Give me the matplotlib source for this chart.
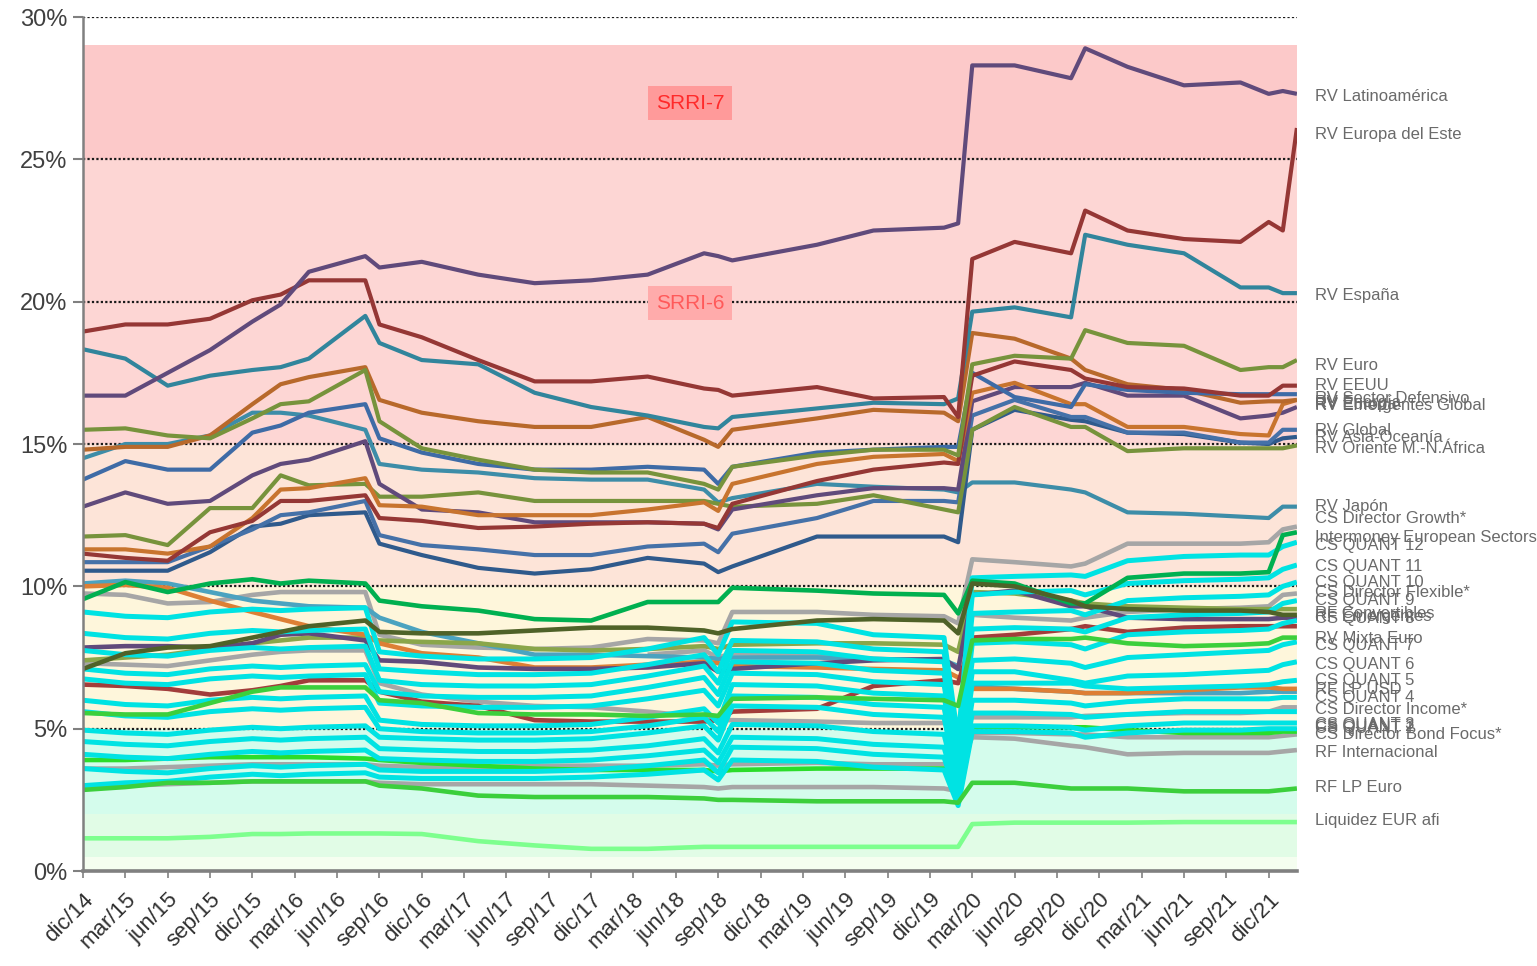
import numpy as np
import matplotlib.pyplot as plt
from matplotlib import font_manager

months = [0, 3, 6, 9, 12, 14, 16, 20, 21, 24, 28, 32, 36, 40, 44, 45, 46, 52, 56, 61,
          62, 63, 66, 70, 71, 74, 78, 82, 84, 85, 86]

tick_labels = ['dic/14', 'mar/15', 'jun/15', 'sep/15', 'dic/15', 'mar/16', 'jun/16', 'sep/16',
               'dic/16', 'mar/17', 'jun/17', 'sep/17', 'dic/17', 'mar/18', 'jun/18', 'sep/18',
               'dic/18', 'mar/19', 'jun/19', 'sep/19', 'dic/19', 'mar/20', 'jun/20', 'sep/20',
               'dic/20', 'mar/21', 'jun/21', 'sep/21', 'dic/21']

# ---- renta variable
rv_latam = [16.7, 16.7, 17.5, 18.3, 19.3, 19.9, 21.05, 21.6, 21.2, 21.4, 20.95, 20.65, 20.75, 20.95, 21.7,
            21.6, 21.45, 22.0, 22.5, 22.6, 22.75, 28.3, 28.3, 27.85, 28.9, 28.25, 27.6, 27.7, 27.3, 27.4, 27.3]
rv_europa_este = [18.95, 19.2, 19.2, 19.4, 20.05, 20.25, 20.75, 20.75, 19.2, 18.75, 17.95, 17.2, 17.2, 17.37, 16.95,
                  16.9, 16.7, 17.0, 16.6, 16.65, 15.95, 21.5, 22.1, 21.7, 23.2, 22.5, 22.2, 22.1, 22.8, 22.5, 26.1]
rv_espana = [18.33, 18.0, 17.05, 17.4, 17.6, 17.7, 18.0, 19.5, 18.55, 17.95, 17.8, 16.8, 16.3, 16.0, 15.6,
             15.55, 15.95, 16.25, 16.45, 16.4, 16.6, 19.65, 19.8, 19.45, 22.35, 22.0, 21.7, 20.5, 20.5, 20.3, 20.3]
rv_euro = [15.5, 15.55, 15.3, 15.2, 15.9, 16.4, 16.5, 17.6, 15.8, 14.85, 14.45, 14.1, 14.0, 14.0, 13.6,
           13.4, 14.2, 14.6, 14.8, 14.8, 14.6, 17.8, 18.1, 18.0, 19.0, 18.55, 18.45, 17.6, 17.7, 17.7, 17.95]
rv_eeuu = [11.15, 11.0, 10.9, 11.9, 12.3, 13.0, 13.0, 13.2, 12.4, 12.3, 12.05, 12.1, 12.2, 12.25, 12.2,
           12.05, 12.9, 13.7, 14.1, 14.35, 14.3, 17.4, 17.9, 17.6, 17.3, 17.0, 16.95, 16.7, 16.7, 17.05, 17.05]
rv_defensivo = [13.75, 14.4, 14.1, 14.1, 15.4, 15.65, 16.1, 16.4, 15.2, 14.7, 14.3, 14.1, 14.1, 14.2, 14.1,
                13.6, 14.2, 14.7, 14.8, 14.9, 14.9, 17.5, 16.65, 16.3, 17.1, 16.9, 16.8, 16.75, 16.75, 16.75, 16.75]
rv_europa = [14.8, 14.9, 14.9, 15.3, 16.4, 17.1, 17.35, 17.7, 16.55, 16.1, 15.8, 15.6, 15.6, 15.95, 15.15,
             14.9, 15.5, 15.9, 16.2, 16.1, 15.8, 18.9, 18.7, 18.0, 17.6, 17.1, 16.9, 16.45, 16.5, 16.5, 16.55]
rv_emergentes = [11.3, 11.3, 11.15, 11.4, 12.4, 13.4, 13.45, 13.8, 12.85, 12.8, 12.5, 12.5, 12.5, 12.7, 12.95,
                 12.65, 13.6, 14.3, 14.55, 14.65, 14.4, 16.8, 17.15, 16.4, 16.4, 15.6, 15.6, 15.35, 15.3, 16.4, 16.55]
rv_energia = [12.8, 13.3, 12.9, 13.0, 13.9, 14.3, 14.45, 15.1, 13.6, 12.7, 12.6, 12.25, 12.25, 12.25, 12.2,
              12.0, 12.7, 13.2, 13.45, 13.45, 13.4, 16.5, 17.0, 17.0, 17.15, 16.7, 16.7, 15.9, 16.0, 16.1, 16.3]
rv_global = [10.85, 10.85, 10.85, 11.4, 12.0, 12.5, 12.6, 13.0, 11.8, 11.45, 11.3, 11.1, 11.1, 11.4, 11.5,
             11.2, 11.85, 12.4, 13.0, 13.0, 12.95, 16.0, 16.55, 15.95, 15.95, 15.4, 15.4, 15.05, 15.05, 15.5, 15.5]
rv_asia = [10.55, 10.55, 10.55, 11.2, 12.1, 12.2, 12.5, 12.6, 11.5, 11.1, 10.65, 10.45, 10.6, 11.0, 10.8,
           10.5, 10.7, 11.75, 11.75, 11.75, 11.55, 15.5, 16.2, 15.85, 15.8, 15.4, 15.35, 15.05, 15.0, 15.2, 15.25]
rv_oriente = [11.75, 11.8, 11.45, 12.75, 12.75, 13.9, 13.55, 13.6, 13.15, 13.15, 13.3, 13.0, 13.0, 13.0, 13.0,
              12.9, 12.8, 12.9, 13.2, 12.7, 12.6, 15.5, 16.3, 15.6, 15.6, 14.75, 14.85, 14.85, 14.85, 14.85, 14.95]
rv_japon = [14.5, 15.0, 15.0, 15.3, 16.1, 16.1, 16.0, 15.5, 14.3, 14.1, 14.0, 13.8, 13.75, 13.75, 13.4,
            12.95, 13.1, 13.6, 13.5, 13.4, 13.3, 13.65, 13.65, 13.4, 13.3, 12.6, 12.55, 12.45, 12.4, 12.8, 12.8]

# ---- mixtos, renta fija, liquidez
cs_growth = [9.75, 9.7, 9.4, 9.45, 9.7, 9.8, 9.8, 9.8, 8.3, 7.95, 7.85, 7.8, 7.85, 8.15, 8.1,
             8.0, 9.1, 9.1, 9.0, 8.95, 8.7, 10.95, 10.85, 10.7, 10.8, 11.5, 11.5, 11.5, 11.55, 12.0, 12.1]
european_sectors = [9.55, 10.15, 9.8, 10.1, 10.25, 10.1, 10.2, 10.1, 9.5, 9.3, 9.15, 8.85, 8.8, 9.45, 9.45,
                    9.45, 9.95, 9.85, 9.75, 9.7, 9.05, 10.2, 10.1, 9.4, 9.4, 10.3, 10.45, 10.45, 10.5, 11.8, 11.9]
cs_flexible = [None, None, None, None, None, None, None, None, None, None, None, None, None, 7.6, 7.75,
               7.5, 7.65, 7.6, 7.45, 7.4, 7.1, 9.0, 8.9, 8.8, 8.9, 9.1, 9.2, 9.25, 9.3, 9.7, 9.75]
cs_income = [7.3, 7.25, 7.2, 7.4, 7.6, 7.7, 7.75, 7.75, 6.6, 6.2, 5.95, 5.8, 5.75, 5.6, 5.4,
             5.3, 5.3, 5.25, 5.2, 5.2, 5.0, 5.4, 5.4, 5.4, 5.45, 5.5, 5.55, 5.55, 5.6, 5.75, 5.75]
cs_bond = [3.0, 3.0, 3.05, 3.1, 3.15, 3.15, 3.15, 3.15, 3.1, 3.05, 3.05, 3.05, 3.05, 3.0, 2.95,
           2.9, 2.95, 2.95, 2.95, 2.9, 2.8, 4.85, 4.85, 4.8, 4.8, 4.7, 4.7, 4.7, 4.7, 4.75, 4.8]
rf_internacional = [3.6, 3.6, 3.65, 3.7, 3.75, 3.75, 3.75, 3.75, 3.7, 3.65, 3.65, 3.7, 3.7, 3.7, 3.75,
                    3.7, 3.75, 3.8, 3.75, 3.75, 3.6, 4.7, 4.65, 4.4, 4.35, 4.1, 4.15, 4.15, 4.15, 4.2, 4.25]
rf_convertibles = [7.1, 7.65, 7.85, 7.9, 8.2, 8.4, 8.6, 8.8, 8.4, 8.35, 8.35, 8.45, 8.55, 8.55, 8.45,
                   8.35, 8.5, 8.8, 8.85, 8.8, 8.35, 10.1, 10.0, 9.5, 9.3, 9.2, 9.15, 9.15, 9.1, 9.0, 9.0]
rf_emergentes = [7.85, 7.9, 7.9, 7.85, 8.0, 8.3, 8.35, 8.1, 7.4, 7.35, 7.15, 7.1, 7.1, 7.15, 7.3,
                 7.0, 7.1, 7.3, 7.4, 7.45, 7.1, 9.7, 9.85, 9.3, 9.3, 8.9, 8.85, 8.85, 8.85, 8.9, 8.9]
mixto_rojo = [6.55, 6.5, 6.4, 6.2, 6.35, 6.5, 6.7, 6.7, 6.3, 5.95, 5.8, 5.3, 5.25, 5.25, 5.25,
              5.3, 5.6, 5.7, 6.5, 6.7, 6.6, 8.2, 8.3, 8.5, 8.6, 8.4, 8.55, 8.6, 8.6, 8.6, 8.6]
rv_mixta_euro = [5.55, 5.5, 5.5, 5.9, 6.3, 6.45, 6.45, 6.45, 6.0, 5.9, 5.55, 5.5, 5.5, 5.45, 5.5,
                 5.45, 6.05, 6.1, 6.05, 6.0, 5.8, 8.1, 8.15, 8.15, 8.2, 8.0, 7.9, 7.95, 8.0, 8.2, 8.2]
rf_lp_usd = [10.0, 10.05, 9.95, 9.5, 9.1, 8.85, 8.6, 8.3, 8.0, 7.65, 7.5, 7.15, 7.15, 7.25, 7.35,
             7.3, 7.2, 7.15, 7.1, 7.05, 6.8, 6.4, 6.4, 6.3, 6.25, 6.25, 6.35, 6.45, 6.45, 6.4, 6.4]
mixto_teal = [10.1, 10.2, 10.1, 9.8, 9.5, 9.4, 9.3, 9.25, 8.9, 8.4, 8.0, 7.6, 7.6, 7.55, 7.5,
              7.45, 7.5, 7.5, 7.45, 7.4, 7.2, 6.5, 6.4, 6.3, 6.25, 6.25, 6.25, 6.25, 6.3, 6.3, 6.3]
mixto_oliva = [7.4, 7.5, 7.6, 7.8, 8.0, 8.1, 8.2, 8.2, 8.1, 8.05, 8.0, 7.8, 7.75, 7.8, 7.9,
               7.8, 7.95, 8.0, 8.0, 7.95, 7.7, 9.8, 9.75, 9.5, 9.4, 9.3, 9.25, 9.2, 9.2, 9.2, 9.2]
mixto_verde = [3.9, 3.9, 3.95, 4.0, 4.0, 4.0, 4.0, 3.95, 3.9, 3.8, 3.7, 3.6, 3.55, 3.55, 3.55,
               3.5, 3.55, 3.6, 3.6, 3.6, 3.5, 5.05, 5.05, 5.05, 5.05, 4.95, 4.85, 4.85, 4.85, 4.9, 4.9]
rf_lp_euro = [2.85, 2.95, 3.1, 3.1, 3.15, 3.15, 3.15, 3.15, 3.0, 2.9, 2.65, 2.6, 2.6, 2.6, 2.55,
              2.5, 2.5, 2.45, 2.45, 2.45, 2.4, 3.1, 3.1, 2.9, 2.9, 2.9, 2.8, 2.8, 2.8, 2.85, 2.9]
liquidez = [1.15, 1.15, 1.15, 1.2, 1.3, 1.3, 1.32, 1.32, 1.32, 1.3, 1.05, 0.9, 0.78, 0.78, 0.85,
            0.85, 0.85, 0.85, 0.85, 0.85, 0.85, 1.65, 1.7, 1.7, 1.7, 1.7, 1.72, 1.72, 1.72, 1.72, 1.72]

# ---- CS QUANT 12 ... 1
quant_12 = [9.1, 8.95, 8.9, 9.1, 9.2, 9.15, 9.2, 9.25, 7.7, 7.55, 7.45, 7.45, 7.5, 7.8, 8.2,
            7.6, 8.75, 8.7, 8.3, 8.2, 4.6, 10.3, 10.35, 10.4, 10.35, 10.9, 11.05, 11.1, 11.1, 11.4, 11.55]
quant_11 = [8.35, 8.2, 8.15, 8.35, 8.45, 8.4, 8.45, 8.5, 7.1, 7.0, 6.9, 6.9, 6.95, 7.25, 7.6,
            7.0, 8.1, 8.05, 7.8, 7.7, 4.3, 9.7, 9.8, 9.85, 9.7, 10.1, 10.2, 10.25, 10.3, 10.6, 10.75]
quant_10 = [7.75, 7.6, 7.55, 7.75, 7.85, 7.8, 7.85, 7.9, 6.7, 6.55, 6.5, 6.5, 6.55, 6.85, 7.2,
            6.6, 7.75, 7.7, 7.45, 7.35, 4.0, 9.05, 9.1, 9.15, 9.0, 9.5, 9.6, 9.65, 9.7, 10.0, 10.15]
quant_9 = [7.1, 6.95, 6.9, 7.1, 7.2, 7.15, 7.2, 7.25, 6.3, 6.15, 6.1, 6.1, 6.15, 6.45, 6.8,
           6.2, 7.35, 7.3, 7.05, 6.95, 3.8, 8.5, 8.55, 8.5, 8.4, 8.9, 9.0, 9.05, 9.1, 9.4, 9.5]
quant_8 = [6.75, 6.6, 6.55, 6.75, 6.85, 6.8, 6.85, 6.9, 5.9, 5.8, 5.75, 5.75, 5.8, 6.05, 6.35,
           5.8, 6.95, 6.9, 6.65, 6.55, 3.6, 8.0, 8.05, 7.95, 7.8, 8.3, 8.4, 8.45, 8.5, 8.7, 8.8]
quant_7 = [6.0, 5.85, 5.8, 6.0, 6.1, 6.05, 6.1, 6.15, 5.3, 5.15, 5.1, 5.1, 5.15, 5.4, 5.7,
           5.2, 6.55, 6.5, 6.25, 6.15, 3.4, 7.4, 7.45, 7.3, 7.15, 7.5, 7.6, 7.7, 7.75, 7.95, 8.05]
quant_6 = [5.6, 5.45, 5.4, 5.6, 5.7, 5.65, 5.7, 5.75, 5.0, 4.9, 4.85, 4.85, 4.9, 5.1, 5.4,
           4.9, 6.15, 6.1, 5.85, 5.75, 3.2, 7.0, 7.0, 6.7, 6.6, 6.85, 6.9, 7.0, 7.05, 7.25, 7.35]
quant_5 = [4.95, 4.85, 4.8, 4.95, 5.05, 5.0, 5.05, 5.1, 4.7, 4.65, 4.6, 4.6, 4.65, 4.85, 5.1,
           4.6, 5.8, 5.75, 5.5, 5.4, 3.0, 6.6, 6.6, 6.6, 6.5, 6.4, 6.45, 6.5, 6.55, 6.65, 6.7]
quant_4 = [4.55, 4.45, 4.4, 4.55, 4.65, 4.6, 4.65, 4.7, 4.3, 4.25, 4.2, 4.2, 4.25, 4.4, 4.65,
           4.15, 5.15, 5.1, 4.9, 4.8, 2.8, 6.0, 6.0, 5.9, 5.8, 5.95, 6.05, 6.05, 6.05, 6.1, 6.1]
quant_3 = [4.1, 4.0, 3.95, 4.1, 4.2, 4.15, 4.2, 4.25, 3.95, 3.9, 3.85, 3.85, 3.9, 4.05, 4.25,
           3.8, 4.7, 4.65, 4.45, 4.35, 2.6, 5.55, 5.55, 5.5, 5.4, 5.5, 5.6, 5.6, 5.6, 5.6, 5.6]
quant_2 = [3.6, 3.5, 3.45, 3.6, 3.7, 3.65, 3.7, 3.75, 3.55, 3.5, 3.5, 3.5, 3.55, 3.7, 3.9,
           3.45, 4.35, 4.3, 4.1, 4.0, 2.4, 5.1, 5.1, 5.05, 4.95, 5.1, 5.2, 5.2, 5.2, 5.2, 5.2]
quant_1 = [3.0, 3.1, 3.15, 3.3, 3.4, 3.35, 3.4, 3.45, 3.3, 3.25, 3.25, 3.25, 3.3, 3.4, 3.55,
           3.2, 3.9, 3.85, 3.65, 3.55, 2.3, 4.9, 4.9, 4.85, 4.7, 4.85, 4.95, 4.95, 5.0, 5.0, 5.0]

# SRRI bands (lower, upper) and their fill colours
bands = [(0, 0.5), (0.5, 2), (2, 5), (5, 10), (10, 15), (15, 25), (25, 29)]
band_colors = ['#F5FEF0', '#E1FCE6', '#D4FCEC', '#FEF6DB', '#FDE4D8', '#FDD6D4', '#FCC9C9']

# right-hand labels (text, y position in %)
label_text = ['RV Latinoamérica', 'RV Europa del Este', 'RV España', 'RV Euro', 'RV EEUU',
              'RV Sector Defensivo', 'RV Energía', 'RV Europa', 'RV Emergentes Global', 'RV Global',
              'RV Asia-Oceanía', 'RV Oriente M.-N.África', 'RV Japón', 'CS Director Growth*',
              'Intermoney European Sectors', 'CS QUANT 12', 'CS QUANT 11', 'CS QUANT 10',
              'CS Director Flexible*', 'CS QUANT 9', 'RF Convertibles', 'RF Emergentes', 'CS QUANT 8',
              'RV Mixta Euro', 'CS QUANT 7', 'CS QUANT 6', 'CS QUANT 5', 'RF LP USD', 'CS QUANT 4',
              'CS Director Income*', 'CS QUANT 3', 'CS QUANT 2', 'CS QUANT 1',
              'CS Director Bond Focus*', 'RF Internacional', 'RF LP Euro', 'Liquidez EUR afi']
label_y = [27.19, 25.89, 20.2, 17.77, 17.07, 16.6, 16.45, 16.4, 16.36, 15.49, 15.24, 14.86, 12.82,
           12.4, 11.73, 11.45, 10.71, 10.12, 9.8, 9.52, 9.06, 8.95, 8.88, 8.18, 7.94, 7.27, 6.71,
           6.36, 6.11, 5.66, 5.16, 5.06, 4.99, 4.81, 4.18, 2.92, 1.76]

fonts = {f.name for f in font_manager.fontManager.ttflist}
narrow = 'Liberation Sans Narrow' if 'Liberation Sans Narrow' in fonts else 'Liberation Sans'
plt.rcParams['font.family'] = ['Liberation Sans', 'DejaVu Sans']

fig = plt.figure(figsize=(15.37, 9.66), dpi=100)
ax = fig.add_axes([0.054, 0.0983, 0.7898, 0.8841])

for (lo, hi), c in zip(bands, band_colors):
    ax.axhspan(lo, hi, color=c, lw=0, zorder=0)
for g in [5, 10, 15, 20, 25, 30]:
    ax.axhline(g, color='#1a1a1a', lw=1.6, ls=(0, (1, 1)), zorder=1)

x = np.array(months)

def draw(values, color, lw=3.3, z=3):
    ax.plot(x, np.array(values, dtype=float), color=color, lw=lw, zorder=z,
            solid_joinstyle='round', solid_capstyle='butt')

gray = '#A6A6A6'
for v in [cs_income, cs_bond, rf_internacional, cs_flexible, cs_growth]:
    draw(v, gray)
draw(mixto_teal, '#4BA3C0')
draw(mixto_oliva, '#8AA64A')
draw(rf_lp_usd, '#DD7F35')
draw(rf_emergentes, '#604A7B')
draw(mixto_rojo, '#A23D3B')
draw(mixto_verde, '#2BDD2B')

cyan = '#00E3E3'
for v in [quant_1, quant_2, quant_3, quant_4, quant_5, quant_6,
          quant_7, quant_8, quant_9, quant_10, quant_11, quant_12]:
    draw(v, cyan, lw=3.6, z=4)

draw(rv_mixta_euro, '#3CCF3C', z=5)
draw(european_sectors, '#00B050', z=5)
draw(rf_convertibles, '#4F6228', z=5)
draw(rf_lp_euro, '#3CCF3C', z=5)
draw(liquidez, '#7DFF8E', z=5)

draw(rv_japon, '#3D8DA8', lw=3.0, z=6)
draw(rv_asia, '#2F5A8C', lw=3.0, z=6)
draw(rv_global, '#4571A8', lw=3.0, z=6)
draw(rv_oriente, '#77933C', lw=3.0, z=6)
draw(rv_energia, '#604A7B', lw=3.0, z=6)
draw(rv_emergentes, '#C8742E', lw=3.0, z=6)
draw(rv_europa, '#B8692B', lw=3.0, z=6)
draw(rv_defensivo, '#3E6BA6', lw=3.0, z=6)
draw(rv_eeuu, '#953735', lw=3.0, z=6)
draw(rv_euro, '#77933C', lw=3.0, z=6)
draw(rv_espana, '#31859C', lw=3.0, z=6)
draw(rv_europa_este, '#953735', lw=3.0, z=6)
draw(rv_latam, '#604A7B', lw=3.0, z=6)

ax.text(43, 26.97, 'SRRI-7', color='#FF2A2A', fontsize=15, family=narrow, ha='center', va='center',
        zorder=7, bbox=dict(boxstyle='square,pad=0.35', fc='#FF9A9A', ec='none'))
ax.text(43, 19.95, 'SRRI-6', color='#FF5A5A', fontsize=15, family=narrow, ha='center', va='center',
        zorder=7, bbox=dict(boxstyle='square,pad=0.35', fc='#FFABAB', ec='none'))

for t, yv in zip(label_text, label_y):
    ax.text(87.3, yv, t, color='#6A6A6A', fontsize=12, ha='left', va='center', clip_on=False)

ax.set_xlim(0, 86)
ax.set_ylim(0, 30)
ax.set_yticks([0, 5, 10, 15, 20, 25, 30])
ax.set_yticklabels(['0%', '5%', '10%', '15%', '20%', '25%', '30%'], family=narrow,
                   fontsize=17, color='#404040')
ax.set_xticks(np.arange(0, 85, 3))
ax.set_xticklabels(tick_labels, rotation=45, ha='right', va='top', rotation_mode='anchor',
                   family=narrow, fontsize=16, color='#303030')
ax.tick_params(axis='y', direction='out', length=7, width=1.5, color='#808080', pad=4)
ax.tick_params(axis='x', direction='out', length=5, width=1.2, color='#808080', pad=8)
for s in ['top', 'right']:
    ax.spines[s].set_visible(False)
ax.spines['left'].set_color('#808080')
ax.spines['left'].set_linewidth(1.8)
ax.spines['bottom'].set_color('#808080')
ax.spines['bottom'].set_linewidth(2.6)
ax.spines['left'].set_zorder(8)
ax.spines['bottom'].set_zorder(8)

fig.savefig('out.png', dpi=100, facecolor='white')
